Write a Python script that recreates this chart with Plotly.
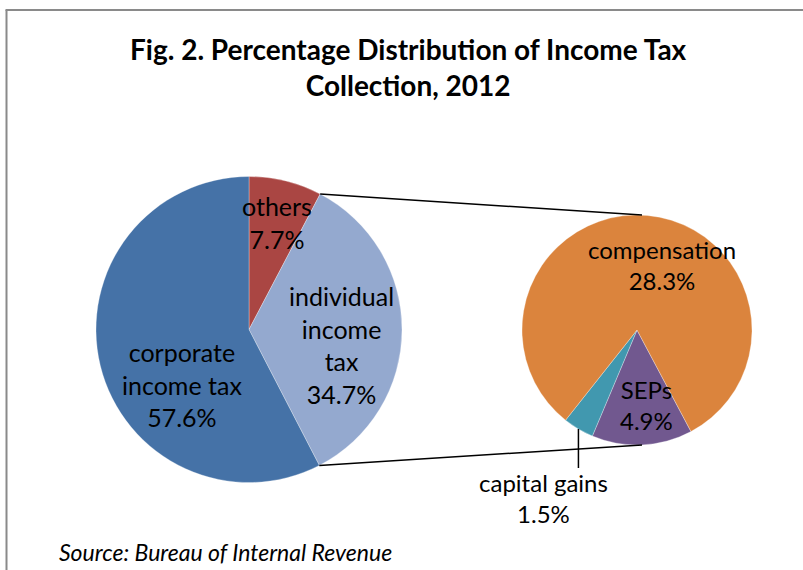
import math
import plotly.graph_objects as go

# ---- data ----
main_labels = ["others", "individual income tax", "corporate income tax"]
main_values = [7.7, 34.7, 57.6]
main_text = ["others", "individual<br>income<br>tax", "corporate<br>income tax"]
sub_labels = ["SEPs", "capital gains", "compensation"]
sub_values = [4.9, 1.5, 28.3]
sub_text = ["SEPs", "capital gains", "compensation"]
title_text = "Fig. 2. Percentage Distribution of Income Tax<br>Collection, 2012"
source_text = "Source: Bureau of Internal Revenue"

main_colors = ["#AA4643", "#94A9CF", "#4572A7"]
sub_colors = ["#71588F", "#4198AF", "#DB843D"]

# ---- layout geometry (pixels) ----
W, H = 803, 570
MAIN_C, MAIN_R = (249.0, 329.5), 153.0
SUB_C, SUB_R = (637.0, 330.0), 115.0
SUB_ROT = 152
FONT = "Lato"


def px(x):
    return x / W


def py(y):
    return 1 - y / H


def on_circle(c, r, deg):
    a = math.radians(deg)
    return c[0] + r * math.sin(a), c[1] - r * math.cos(a)


fig = go.Figure()
fig.add_trace(go.Pie(
    labels=main_labels, values=main_values, sort=False, direction="clockwise",
    rotation=0, textinfo="none", hoverinfo="label+value",
    marker=dict(colors=main_colors, line=dict(color="rgba(255,255,255,0.6)", width=0.5)),
    domain=dict(x=[px(MAIN_C[0] - MAIN_R), px(MAIN_C[0] + MAIN_R)],
                y=[py(MAIN_C[1] + MAIN_R), py(MAIN_C[1] - MAIN_R)]),
    showlegend=False,
))
fig.add_trace(go.Pie(
    labels=sub_labels, values=sub_values, sort=False, direction="clockwise",
    rotation=SUB_ROT, textinfo="none", hoverinfo="label+value",
    marker=dict(colors=sub_colors, line=dict(color="rgba(255,255,255,0.6)", width=0.5)),
    domain=dict(x=[px(SUB_C[0] - SUB_R), px(SUB_C[0] + SUB_R)],
                y=[py(SUB_C[1] + SUB_R), py(SUB_C[1] - SUB_R)]),
    showlegend=False,
))

shapes = []
# border (left and top edges visible in the frame)
shapes.append(dict(type="line", xref="paper", yref="paper",
                   x0=px(6.5), x1=px(6.5), y0=0, y1=py(10),
                   line=dict(color="#8A8A8A", width=2)))
shapes.append(dict(type="line", xref="paper", yref="paper",
                   x0=px(5.5), x1=px(W + 10), y0=py(10), y1=py(10),
                   line=dict(color="#8A8A8A", width=2)))

# connector lines from the split slice to the secondary pie
total = sum(main_values)
start_deg = 360 * main_values[0] / total
end_deg = 360 * (main_values[0] + main_values[1]) / total
p_top = on_circle(MAIN_C, MAIN_R, start_deg)
p_bot = on_circle(MAIN_C, MAIN_R, end_deg)
for p, yy in ((p_top, SUB_C[1] - SUB_R), (p_bot, SUB_C[1] + SUB_R)):
    shapes.append(dict(type="line", xref="paper", yref="paper",
                       x0=px(p[0]), y0=py(p[1]), x1=px(SUB_C[0] + 5), y1=py(yy),
                       line=dict(color="black", width=1.5)))

# leader line for capital gains
sub_total = sum(sub_values)
cg_mid = SUB_ROT + 360 * (sub_values[0] + sub_values[1] / 2) / sub_total
lp = on_circle(SUB_C, SUB_R, cg_mid)
shapes.append(dict(type="line", xref="paper", yref="paper",
                   x0=px(lp[0]), y0=py(lp[1]), x1=px(lp[0]), y1=py(468),
                   line=dict(color="black", width=1.5)))

# ---- labels ----
label_pos_main = [(277, 222), (341, 345), (182, 384)]
label_pos_sub = [(646, 405), (543, 498), (662, 265)]
ann = []
for t, v, (x, y) in zip(main_text, main_values, label_pos_main):
    ann.append(dict(text=f"{t}<br>{v:.1f}%", x=px(x), y=py(y), xref="paper", yref="paper",
                    showarrow=False, xanchor="center", yanchor="middle",
                    font=dict(family=FONT, size=25, color="black")))
for t, v, (x, y) in zip(sub_text, sub_values, label_pos_sub):
    ann.append(dict(text=f"{t}<br>{v:.1f}%", x=px(x), y=py(y), xref="paper", yref="paper",
                    showarrow=False, xanchor="center", yanchor="middle",
                    font=dict(family=FONT, size=24, color="black")))
ann.append(dict(text=f"<b>{title_text}</b>", x=px(408), y=py(67), xref="paper", yref="paper",
                showarrow=False, xanchor="center", yanchor="middle",
                font=dict(family=FONT, size=28, color="black")))
ann.append(dict(text=f"<i>{source_text}</i>", x=px(57), y=py(552), xref="paper", yref="paper",
                showarrow=False, xanchor="left", yanchor="middle",
                font=dict(family=FONT, size=23, color="black")))

fig.update_layout(
    width=W, height=H, margin=dict(l=0, r=0, t=0, b=0),
    paper_bgcolor="white", plot_bgcolor="white",
    shapes=shapes, annotations=ann, font=dict(family=FONT),
)
fig.write_html("out.html", config={"displayModeBar": False},
               post_script="document.documentElement.style.overflow='hidden';"
                           "document.body.style.margin='0px';document.body.style.overflow='hidden';")
